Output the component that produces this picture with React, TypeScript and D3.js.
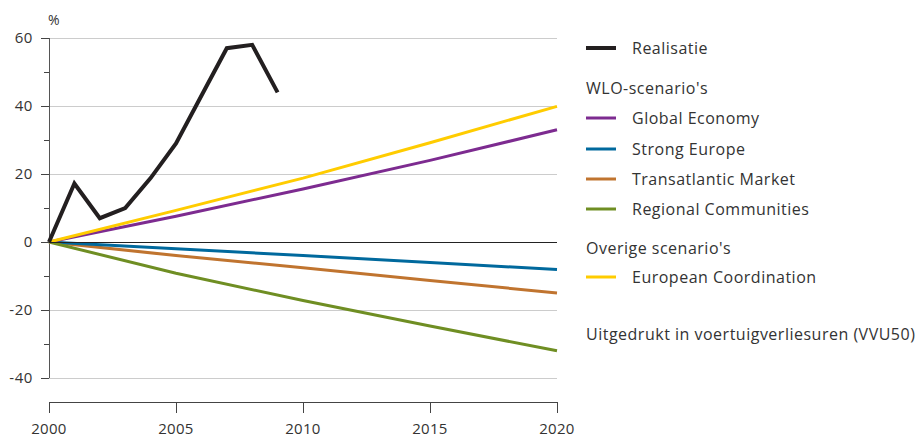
import React from "react";
import * as d3 from "d3";

const realYears = [2000, 2001, 2002, 2003, 2004, 2005, 2006, 2007, 2008, 2009];
const realValues = [0, 17.2, 7, 10, 18.8, 29, 43, 57, 58, 44];

const scenYears = [2000, 2005, 2010, 2015, 2020];
const globalEconomy = [0, 7.6, 15.6, 24, 33];
const strongEurope = [0, -2, -4, -6, -8.1];
const transatlantic = [0, -4, -7.6, -11.3, -15];
const regional = [0, -9.2, -17.2, -24.7, -32];
const europeanCoord = [0, 9.3, 18.8, 29.2, 39.9];

const yTicks = [-40, -20, 0, 20, 40, 60];
const yMinor = [-30, -10, 10, 30, 50];
const xTicks = [2000, 2005, 2010, 2015, 2020];

const FONT = "'Open Sans', 'Noto Sans', sans-serif";
const TXT = "#333";

export default function App() {
  const x = d3.scaleLinear().domain([2000, 2020]).range([49, 557]);
  const y = d3.scaleLinear().domain([-40, 60]).range([378, 38]);
  const line = d3.line<[number, number]>().x((d) => x(d[0])).y((d) => y(d[1]));
  const pts = (xs: number[], vs: number[]) => xs.map((v, i) => [v, vs[i]] as [number, number]);

  const scen = [
    { vals: transatlantic, color: "#c0742f" },
    { vals: strongEurope, color: "#00699d" },
    { vals: regional, color: "#6f8e23" },
    { vals: globalEconomy, color: "#7d2b90" },
    { vals: europeanCoord, color: "#ffcc00" },
  ];

  const legend: { type: string; label: string; color?: string; y: number; w?: number }[] = [
    { type: "line", label: "Realisatie", color: "#231f20", y: 48, w: 4 },
    { type: "head", label: "WLO-scenario's", y: 88 },
    { type: "line", label: "Global Economy", color: "#7d2b90", y: 118, w: 3 },
    { type: "line", label: "Strong Europe", color: "#00699d", y: 149, w: 3 },
    { type: "line", label: "Transatlantic Market", color: "#c0742f", y: 179, w: 3 },
    { type: "line", label: "Regional Communities", color: "#6f8e23", y: 209, w: 3 },
    { type: "head", label: "Overige scenario's", y: 248 },
    { type: "line", label: "European Coordination", color: "#ffcc00", y: 277, w: 3 },
    { type: "head", label: "Uitgedrukt in voertuigverliesuren (VVU50)", y: 334 },
  ];

  return (
    <svg width={919} height={438} style={{ position: "absolute", left: 0, top: 0, background: "#fff" }} fontFamily={FONT}>
      {yTicks.filter((t) => t !== 0).map((t) => (
        <line key={"g" + t} x1={x(2000)} x2={x(2020)} y1={y(t) + 0.5} y2={y(t) + 0.5} stroke="#cccccc" strokeWidth={1} />
      ))}
      {yTicks.map((t) => (
        <g key={"yt" + t}>
          <line x1={x(2000) - 8} x2={x(2000)} y1={y(t) + 0.5} y2={y(t) + 0.5} stroke="#444" strokeWidth={1} />
          <text x={33} y={y(t)} dy="0.35em" textAnchor="end" fontSize={15} letterSpacing={0.6} fill={TXT}>{t}</text>
        </g>
      ))}
      {yMinor.map((t) => (
        <line key={"ym" + t} x1={x(2000) - 5} x2={x(2000)} y1={y(t) + 0.5} y2={y(t) + 0.5} stroke="#444" strokeWidth={1} />
      ))}
      <line x1={x(2000) + 0.5} x2={x(2000) + 0.5} y1={y(60)} y2={y(-40)} stroke="#555" strokeWidth={1} />
      <text x={48} y={25} fontSize={14} fill={TXT}>%</text>

      <line x1={x(2000)} x2={x(2020)} y1={402.5} y2={402.5} stroke="#444" strokeWidth={1} />
      {xTicks.map((t) => (
        <g key={"xt" + t}>
          <line x1={x(t) + 0.5} x2={x(t) + 0.5} y1={402} y2={413} stroke="#444" strokeWidth={1} />
          <text x={x(t)} y={434} textAnchor="middle" fontSize={15} letterSpacing={0.3} fill={TXT}>{t}</text>
        </g>
      ))}

      {scen.map((s, i) => (
        <path key={"s" + i} d={line(pts(scenYears, s.vals)) || ""} fill="none" stroke={s.color} strokeWidth={3} />
      ))}
      <line x1={x(2000)} x2={x(2020)} y1={y(0) + 0.5} y2={y(0) + 0.5} stroke="#222" strokeWidth={1} />
      <path d={line(pts(realYears, realValues)) || ""} fill="none" stroke="#231f20" strokeWidth={4} strokeLinejoin="miter" />

      {legend.map((l, i) => (
        <g key={"l" + i}>
          {l.type === "line" && (
            <line x1={586} x2={616} y1={l.y} y2={l.y} stroke={l.color} strokeWidth={l.w} />
          )}
          <text x={l.type === "line" ? 632 : 586} y={l.y} dy="0.35em" fontSize={16} letterSpacing={0.5} fill={TXT}>{l.label}</text>
        </g>
      ))}
    </svg>
  );
}
